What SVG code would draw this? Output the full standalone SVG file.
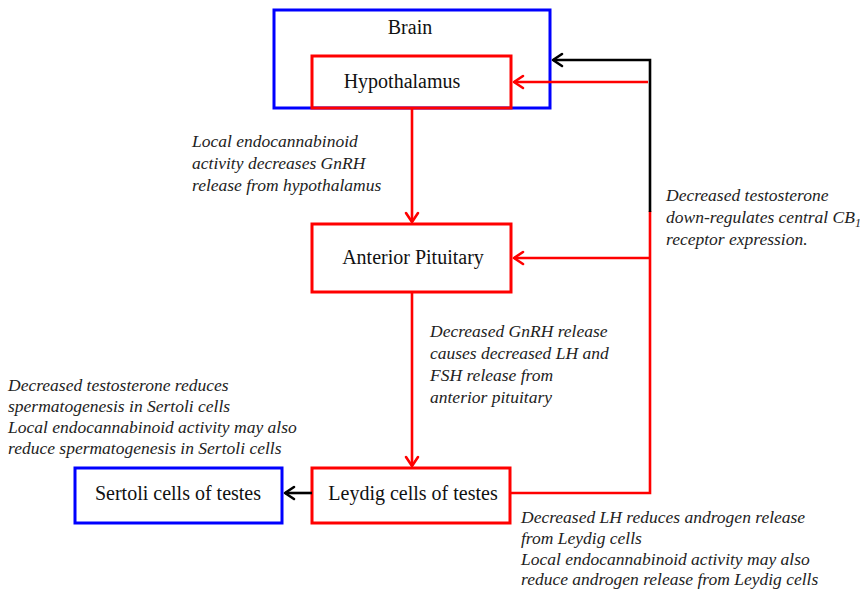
<svg xmlns="http://www.w3.org/2000/svg" width="860" height="590" viewBox="0 0 860 590">
<style>
.box{fill:none;stroke-width:3}
.blue{stroke:#0000ff}
.red{stroke:#ff0000}
.lbl{font-family:"Liberation Serif","Times New Roman",serif;font-size:20px;fill:#111;text-anchor:middle}
.note{font-family:"Liberation Serif","Times New Roman",serif;font-size:17.5px;font-style:italic;fill:#222}
.c{fill:none;stroke-width:2.6}
.ah{fill:none;stroke-width:2.6;stroke-linecap:round;stroke-linejoin:round}
</style>
<rect width="860" height="590" fill="#fff"/>
<g id="brain">
<rect class="box blue" x="274" y="10" width="276" height="98"/>
<text class="lbl" x="410" y="34">Brain</text>
</g>
<g id="hypothalamus">
<rect class="box red" x="312" y="56" width="199" height="52" fill="#fff"/>
<text class="lbl" x="402" y="88">Hypothalamus</text>
</g>
<g id="anterior-pituitary">
<rect class="box red" x="312" y="224" width="199" height="68"/>
<text class="lbl" x="413" y="264">Anterior Pituitary</text>
</g>
<g id="leydig">
<rect class="box red" x="312" y="468" width="198" height="55"/>
<text class="lbl" x="413" y="500">Leydig cells of testes</text>
</g>
<g id="sertoli">
<rect class="box blue" x="75" y="468" width="207" height="55"/>
<text class="lbl" x="178" y="500">Sertoli cells of testes</text>
</g>
<g id="connectors">
<path class="c red" d="M412 108 V222"/>
<path class="ah red" d="M406 213 L412 222 L418 213"/>
<path class="c red" d="M412 292 V466"/>
<path class="ah red" d="M406 457 L412 466 L418 457"/>
<path class="c" stroke="#000" d="M312 493 H285"/>
<path class="ah" stroke="#000" d="M294 487 L285 493 L294 499"/>
<path class="c red" d="M510 493 H650 V211"/>
<path class="c" stroke="#000" d="M650 212 V60 H553"/>
<path class="ah" stroke="#000" d="M562 54 L553 60 L562 66"/>
<path class="c red" d="M648 82 H514"/>
<path class="ah red" d="M523 76 L514 82 L523 88"/>
<path class="c red" d="M650 258 H514"/>
<path class="ah red" d="M523 252 L514 258 L523 264"/>
</g>
<g id="notes">
<text class="note" x="192" y="147">Local endocannabinoid</text>
<text class="note" x="192" y="169">activity decreases GnRH</text>
<text class="note" x="192" y="191">release from hypothalamus</text>
<text class="note" x="666" y="201">Decreased testosterone</text>
<text class="note" x="666" y="223">down-regulates central CB<tspan font-size="12" dy="4">1</tspan></text>
<text class="note" x="666" y="245">receptor expression.</text>
<text class="note" x="430" y="337">Decreased GnRH release</text>
<text class="note" x="430" y="359">causes decreased LH and</text>
<text class="note" x="430" y="381">FSH release from</text>
<text class="note" x="430" y="403">anterior pituitary</text>
<text class="note" x="8" y="391">Decreased testosterone reduces</text>
<text class="note" x="8" y="412">spermatogenesis in Sertoli cells</text>
<text class="note" x="8" y="433">Local endocannabinoid activity may also</text>
<text class="note" x="8" y="454">reduce spermatogenesis in Sertoli cells</text>
<text class="note" x="521" y="523">Decreased LH reduces androgen release</text>
<text class="note" x="521" y="544">from Leydig cells</text>
<text class="note" x="521" y="565">Local endocannabinoid activity may also</text>
<text class="note" x="521" y="585">reduce androgen release from Leydig cells</text>
</g>
</svg>
